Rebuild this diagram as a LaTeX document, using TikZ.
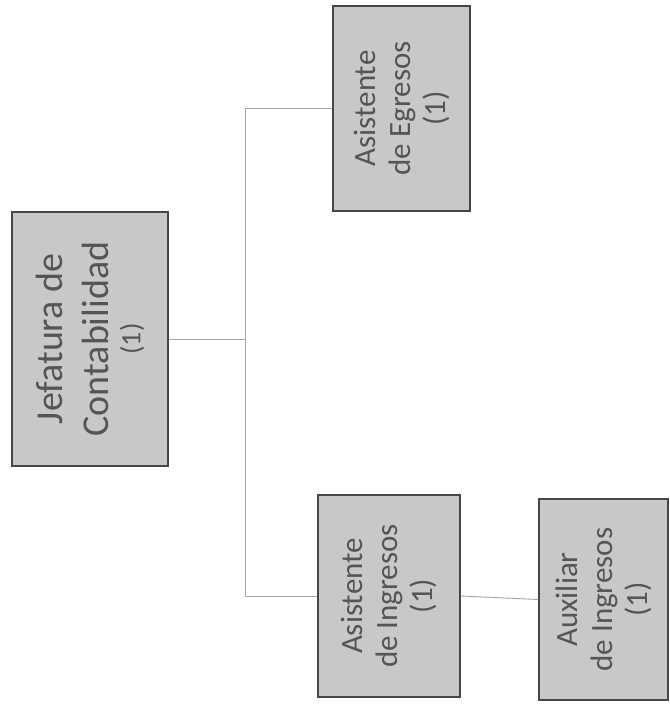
\documentclass[tikz,border=0pt]{standalone}
\usepackage{fontspec}
\setmainfont{Carlito}
\usepackage{tikz}
\usetikzlibrary{positioning}

\definecolor{boxfill}{RGB}{200,200,200}
\definecolor{boxline}{RGB}{70,70,70}
\definecolor{boxtext}{RGB}{85,85,85}
\definecolor{linkgray}{RGB}{165,165,165}

\begin{document}
\begin{tikzpicture}[x=1pt, y=-1pt,
    puesto/.style={draw=boxline, fill=boxfill, line width=1.1pt, rotate=90, inner sep=0pt,
      align=center, text=boxtext, font=\fontsize{31}{35}\selectfont},
    link/.style={draw=linkgray, line width=0.9pt}]
    \useasboundingbox[fill=white] (0,0) rectangle (670,705);
    % Draw boxes (rotated: north is left, south is right)
    \node[puesto, minimum width=254pt, minimum height=156pt, font=\fontsize{38}{46}\selectfont] (J) at (90,339)
      {Jefatura de\\Contabilidad\\[-14pt]\fontsize{28}{30}\selectfont (1)};
    \node[puesto, minimum width=205pt, minimum height=137pt] (AE) at (401.5,108.5)
      {Asistente\\de Egresos\\(1)};
    \node[puesto, minimum width=202pt, minimum height=142pt] (AI) at (389,596)
      {Asistente\\de Ingresos\\(1)};
    \node[puesto, minimum width=201pt, minimum height=129pt] (AX) at (603.5,599.5)
      {Auxiliar\\de Ingresos\\(1)};
    % Draw lines
    \coordinate (bus) at (245,0);
    \draw[link] (J.south) -- (J.south -| bus);
    \draw[link] (AE.north) -- (AE.north -| bus) -- (AI.north -| bus) -- (AI.north);
    \draw[link] (AI.south) -- (AX.north);
\end{tikzpicture}
\end{document}
